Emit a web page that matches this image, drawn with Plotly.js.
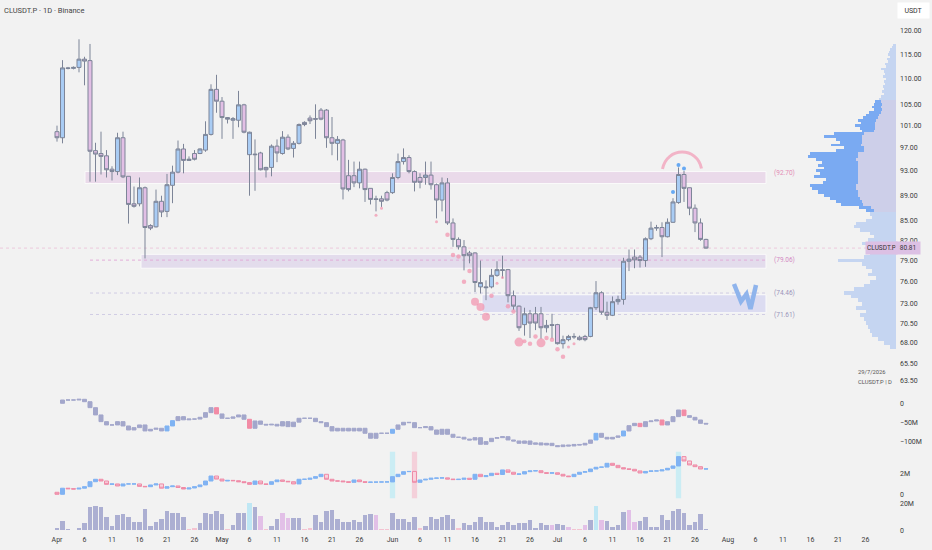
<!DOCTYPE html>
<html><head><meta charset="utf-8">
<script src="https://cdn.plot.ly/plotly-3.0.1.min.js"></script>
<style>html,body{margin:0;padding:0;background:#f2f2f2;}#chart{width:932px;height:550px;}</style>
</head><body><div id="chart"></div>
<script>
// ---------- DATA ----------
const startDay = Date.UTC(2026, 3, 1); // 2026-04-01, one candle per day

const openP = [99.9,98.8,112.2,112.1,112.3,114.0,113.7,96.5,96.0,95.6,93.3,92.9,98.8,92.1,87.6,87.6,90.2,84.2,84.0,88.0,
86.4,90.6,92.8,96.8,94.8,96.0,96.0,96.6,99.4,107.9,105.6,102.5,102.0,102.0,104.9,95.8,95.9,96.1,93.6,93.6,
97.3,96.0,98.9,96.9,97.8,101.6,102.4,102.3,103.9,103.9,98.8,97.8,98.4,92.2,92.2,91.0,93.3,90.1,88.4,88.4,
89.4,89.4,91.9,94.6,95.3,92.9,91.9,91.9,92.3,90.7,88.2,91.0,84.6,82.1,81.0,80.1,80.1,75.3,75.3,75.3,
76.9,77.7,77.7,74.1,72.7,70.3,71.7,71.7,71.7,69.9,70.3,70.3,67.9,68.4,68.8,68.7,68.8,68.8,72.5,74.5,
71.9,71.5,73.3,73.6,78.9,79.5,79.5,79.0,82.2,83.8,83.9,82.5,84.7,87.8,92.4,90.2,86.9,84.6,82.1];
const highP = [101.0,113.8,112.4,112.5,118.2,114.5,117.2,97.9,99.9,96.6,93.8,99.7,99.9,92.1,90.4,91.9,90.4,84.4,89.9,88.9,
92.5,93.9,98.3,97.7,95.5,96.6,96.9,101.8,108.9,110.8,106.4,102.6,102.6,107.6,105.1,99.9,98.5,96.3,93.7,97.6,
98.5,100.0,99.4,98.2,101.4,101.8,102.9,105.0,104.3,104.1,102.6,99.1,98.6,94.9,94.6,94.6,93.4,90.1,88.9,88.9,
89.7,92.6,96.0,96.9,95.7,93.1,92.6,94.6,94.6,90.9,91.9,91.8,85.3,82.4,82.0,80.4,80.2,79.0,76.2,77.8,
78.9,79.7,77.8,74.8,72.8,72.5,72.2,72.6,72.6,70.9,71.7,70.4,68.9,69.0,69.2,68.9,69.0,72.6,76.1,74.7,
73.3,74.0,74.1,79.4,80.6,80.6,79.8,82.4,84.8,84.3,84.7,85.3,88.5,93.6,93.0,90.2,87.5,85.3,82.2];
const lowP = [98.1,97.8,111.9,111.9,111.3,108.7,91.2,91.2,92.4,91.9,91.4,92.3,91.8,84.5,87.0,87.2,79.3,83.5,83.9,85.5,
85.5,87.7,92.6,92.6,94.7,94.8,95.9,96.3,99.2,103.4,98.6,101.4,98.6,100.7,99.6,88.9,89.7,93.1,91.9,92.1,
94.5,95.8,96.6,95.3,97.6,100.9,101.3,98.6,102.0,97.0,95.7,94.8,88.3,89.6,90.3,90.1,87.9,87.5,86.4,87.1,
88.0,89.2,91.6,94.1,92.6,89.6,90.1,90.7,89.9,85.3,86.4,84.3,81.0,80.6,77.6,78.6,74.6,74.4,73.5,75.1,
76.7,76.5,73.2,72.2,69.5,68.9,68.6,69.6,68.5,69.3,68.5,67.8,67.3,68.2,68.5,68.3,68.2,68.7,72.2,71.6,
70.9,71.4,72.9,72.9,77.5,77.9,78.0,78.1,82.0,83.4,79.5,82.4,84.6,87.6,87.9,85.8,83.2,81.9,80.7];
const closeP = [98.8,112.2,112.1,112.3,114.0,113.6,96.4,95.9,95.5,93.2,92.9,98.8,92.0,87.5,87.2,90.2,83.9,83.8,88.0,86.3,
90.7,92.8,96.8,94.8,95.0,95.0,96.8,99.4,107.9,105.6,102.5,102.2,102.3,104.9,99.8,99.8,95.8,93.2,93.2,97.3,
96.1,98.9,96.8,97.8,101.2,101.2,101.9,102.2,102.2,98.8,97.8,98.5,90.0,89.9,91.0,93.3,89.9,88.3,88.3,88.0,
88.2,91.9,94.6,95.3,92.9,91.1,91.1,92.3,90.7,88.2,91.0,84.6,82.1,81.0,79.7,79.7,75.9,75.9,75.2,76.9,
77.7,77.6,74.1,72.7,69.9,71.7,70.5,70.5,69.9,70.2,70.2,67.9,68.4,68.8,68.75,68.4,68.4,72.5,74.5,71.9,
71.5,73.3,73.6,78.9,79.2,79.1,79.0,82.2,83.8,83.9,82.5,84.7,87.9,92.4,90.1,86.9,84.6,82.1,80.81];

// cumulative delta pane (millions), close of each bar; first bar opens at 0
const cvdClose = [null,8.6,8.6,8.6,10.4,4.2,-11.3,-30.3,-47.7,-56.3,-56.3,-47.7,-59,-69.4,-63.3,-56.3,-71.9,-67.6,-65,-71.9,
-59,-45.1,-34.7,-43,-41,-41,-36.4,-24.3,-11.3,-27.7,-39,-39,-35.5,-30.3,-41.6,-65,-46,-54.6,-56.3,-54.6,
-59,-47.7,-60.7,-49,-39,-39,-39,-47.7,-50.3,-60.7,-71.9,-65,-71.9,-65,-71.9,-65,-78,-91,-78,-78,
-78,-67.6,-56.3,-49.4,-50.3,-63.3,-63.3,-60.7,-69.4,-80.6,-67.6,-80.6,-88.4,-88.4,-93,-95.4,-89.4,-106.7,-99.7,-91.1,
-89.4,-86.8,-95.4,-98,-104.1,-98,-106.7,-103,-108.4,-104.1,-110.1,-112.7,-108.4,-111,-107,-108.4,-104.1,-95.4,-78.1,-88.5,
-92.8,-88.5,-85,-72,-58.2,-52.1,-60.7,-47.8,-46,-43.4,-56.4,-47.8,-34.7,-17.4,-32.1,-36.5,-43.4,-52.1,-53.8];
const cvdBlueBars = [20,21,61,98,103];
const cvdPinkBars = [29,35,106,110,114];

// flow pane (millions), close of each bar; first bar opens at 0.2
const flowClose = [0.0,0.6,0.55,0.52,0.6,0.75,1.24,1.48,1.31,0.98,1.02,0.82,1.02,1.02,1.02,0.78,0.75,0.92,1.02,0.6,
0.75,0.82,0.67,0.52,0.62,0.75,0.92,1.31,1.8,1.5,1.31,1.37,1.34,1.24,1.15,0.98,1.31,1.02,0.98,1.24,
1.41,1.28,1.24,1.02,1.48,1.48,1.58,1.74,1.97,1.48,1.31,1.31,1.24,1.18,1.41,1.24,1.18,1.2,1.2,1.22,
1.22,1.74,1.97,2.23,2.25,1.18,1.41,1.48,1.58,1.6,1.62,1.5,1.45,1.48,1.58,1.48,1.97,1.74,1.84,2.07,
1.95,2.4,2.17,1.97,2.0,2.23,2.3,2.32,2.13,2.07,2.12,1.97,1.8,1.74,1.97,2.17,2.23,2.49,2.66,2.68,
3.05,2.85,2.62,2.5,2.46,2.3,2.1,2.25,2.3,2.3,2.4,2.56,2.79,3.71,3.28,2.89,2.72,2.49,2.5];
const flowBands = [61,65,113];
const flowBandKind = ['c','p','c'];

// volume pane (millions)
const volume = [2.0,7.0,1.0,0.3,2.0,5.2,17.1,18.1,17.6,9.6,3.0,11.5,12.2,9.8,6.0,6.5,15.8,3.5,6.0,8.3,
14.5,12.5,12.7,9.8,1.0,1.5,5.2,12.7,12.0,14.5,12.2,1.0,4.0,12.7,12.7,20.5,17.6,10.3,1.0,3.5,
8.3,12.7,9.1,8.8,8.8,1.0,1.5,11.5,6.0,14.5,14.8,8.3,6.5,5.8,7.3,6.5,11.5,12.2,11.0,1.0,
1.0,12.7,8.3,8.3,6.5,9.6,1.5,3.5,9.6,8.3,9.6,11.5,8.6,2.0,5.2,4.0,6.0,9.6,6.5,6.0,
2.7,4.0,6.5,4.0,5.2,5.2,7.7,2.0,5.2,4.0,4.0,4.5,4.0,2.7,1.0,1.0,4.0,7.7,18.3,7.7,
7.0,2.7,4.0,13.3,14.8,6.0,7.0,10.0,2.7,2.7,11.5,7.3,14.0,16.0,12.7,4.0,6.0,12.0,1.0];
const volOrchidBars = [37,41,42,58,90,93,96,99,104,105];
const volPinkBars = [24,25,31,38,45,46,59,60,66,73,94,95];
const volCyanBars = [35,98];

// sell-pressure bubbles and top dots (bar index, price, size)
const bubbleBar = [58,59,69,71,72,73,74,75,76,77,78,79,80,81,82,83,84,85,86,87,88,89,90,91,92,93,94];
const bubblePrice = [85.8,86.9,84.8,82.8,79.8,79.6,76.0,77.5,73.3,72.6,71.3,74.1,75.8,76.6,72.7,72.0,68.1,68.2,67.9,68.8,68.0,68.6,68.4,67.2,66.3,67.5,67.9];
const bubbleSize = [3,3,3,4.5,4.5,4.5,4.5,4.5,8,8,8,4.5,3,3,4.5,4.5,9,4,4.5,4.5,9,4.5,4.5,4.5,4.5,3,3];
const dotBar = [112,113,114];
const dotPrice = [89.5,94.0,93.4];

// visible-range volume profile: rows of 0.5 from 117.0 down to 67.5
const profileTop = 117.0, profileStep = 0.5;
const profileTotal = [3,4,6,7,8,6,9,8,11,10, 15,12,11,13,10,12,11,13,12,14,
12,15,17,21,22,24,22,27,30,33, 38,35,41,36,34,62,72,60,56,65,
52,60,86,88,80,74,78,72,80,76, 82,70,73,86,84,78,72,66,60,55,
37,30,26,24,30,40,42,36,26,22, 28,34,24,22,26,32,58,34,30,24,
28,20,26,32,42,52,45,38,34,40, 30,36,32,30,28,26,24,18,12,6];
const profileStrong = [0,0,0,0,0,0,0,0,0,0, 0,0,0,0,0,0,0,0,0,0,
0,0,0,6,8,9,8,12,13,15, 18,14,20,15,12,30,38,26,22,30,
20,28,48,50,40,36,40,34,42,38, 44,32,35,46,44,40,34,30,26,22,
12,8,0,0,0,0,0,0,0,0, 0,0,0,0,0,0,0,0,0,0,
0,0,0,0,0,0,0,0,0,0, 0,0,0,0,0,0,0,0,0,0];

// axis ticks
const priceTicks = [120,115,110,105,101,97,93,89,85,82,79,76,73,70.5,68,65.5,63.5];
const dateTicks = ['2026-04-01','2026-04-06','2026-04-11','2026-04-16','2026-04-21','2026-04-26','2026-05-01','2026-05-06','2026-05-11','2026-05-16','2026-05-21','2026-05-26','2026-06-01','2026-06-06','2026-06-11','2026-06-16','2026-06-21','2026-06-26','2026-07-01','2026-07-06','2026-07-11','2026-07-16','2026-07-21','2026-07-26','2026-08-01','2026-08-06','2026-08-11','2026-08-16','2026-08-21','2026-08-26'];
const dateTickText = ['Apr','6','11','16','21','26','May','6','11','16','21','26','Jun','6','11','16','21','26','Jul','6','11','16','21','26','Aug','6','11','16','21','26'];

// ---------- BUILD ----------
const DAY = 864e5;
const dayStr = f => new Date(startDay + f * DAY).toISOString().replace('T',' ').slice(0,19);
const N = closeP.length;
const dates = closeP.map((_, i) => dayStr(i).slice(0,10));
const PX = v => v / 932, PY = v => 1 - v / 550;
const FONT = 'Roboto, "Noto Sans", sans-serif';
const EDGE = 896 / 932;

const traces = [];

// volume profile
const levels = profileTotal.map((_, k) => profileTop - k * profileStep);
const profilePale = profileTotal.map((t, k) => t - profileStrong[k]);
const paleColors = levels.map(p => (p >= 86.5 && p <= 105.5) ? '#cdcfe9' : '#c5d5f1');
traces.push({type:'bar', orientation:'h', x:profilePale, y:levels, width:profileStep, xaxis:'x2', yaxis:'y',
  marker:{color:paleColors, line:{width:0}}, hoverinfo:'skip', showlegend:false});
traces.push({type:'bar', orientation:'h', x:profileStrong, y:levels, width:profileStep, xaxis:'x2', yaxis:'y',
  marker:{color:'#7aaaf2', line:{width:0}}, hoverinfo:'skip', showlegend:false});

// price candles
traces.push({type:'candlestick', x:dates, open:openP, high:highP, low:lowP, close:closeP, xaxis:'x', yaxis:'y',
  increasing:{line:{color:'#7d8598', width:1}, fillcolor:'#a9ccf4'},
  decreasing:{line:{color:'#7d8598', width:1}, fillcolor:'#e2bfe5'},
  whiskerwidth:0, hoverinfo:'skip', showlegend:false});

// bubbles & dots
traces.push({type:'scatter', mode:'markers', x:bubbleBar.map(i => dates[i]), y:bubblePrice, xaxis:'x', yaxis:'y',
  marker:{size:bubbleSize, color:'#f291ac', line:{width:0}}, hoverinfo:'skip', showlegend:false});
traces.push({type:'scatter', mode:'markers', x:dotBar.map(i => dates[i]), y:dotPrice, xaxis:'x', yaxis:'y',
  marker:{size:4, color:'#67a9f3', line:{width:0}}, hoverinfo:'skip', showlegend:false});

// cumulative delta candles
function cvdKind(i){ return cvdBlueBars.includes(i) ? 'b' : (cvdPinkBars.includes(i) ? 'p' : 'g'); }
function cvdTrace(kind, color){
  const xs=[], o=[], h=[], l=[], c=[];
  for (let i = 1; i < N; i++) {
    if (cvdKind(i) !== kind) continue;
    const op = (i === 1 || cvdClose[i-1] === null) ? 0 : cvdClose[i-1];
    const cl = cvdClose[i];
    xs.push(dates[i]); o.push(op); c.push(cl); h.push(Math.max(op, cl)); l.push(Math.min(op, cl));
  }
  return {type:'candlestick', x:xs, open:o, high:h, low:l, close:c, xaxis:'x', yaxis:'y2',
    increasing:{line:{color:color, width:1}, fillcolor:color},
    decreasing:{line:{color:color, width:1}, fillcolor:color},
    whiskerwidth:0, hoverinfo:'skip', showlegend:false};
}
traces.push(cvdTrace('g', '#a3a7cb'));
traces.push(cvdTrace('b', '#7fb3f3'));
traces.push(cvdTrace('p', '#f28ca6'));

// flow candles
const fo = flowClose.map((c, i) => i === 0 ? 0.2 : flowClose[i-1]);
traces.push({type:'candlestick', x:dates, open:fo, close:flowClose,
  high:fo.map((o, i) => Math.max(o, flowClose[i])), low:fo.map((o, i) => Math.min(o, flowClose[i])),
  xaxis:'x', yaxis:'y3',
  increasing:{line:{color:'#80b3f3', width:1}, fillcolor:'#80b3f3'},
  decreasing:{line:{color:'#ef8ba7', width:1}, fillcolor:'#f8d3de'},
  whiskerwidth:0, hoverinfo:'skip', showlegend:false});

// volume bars
const volColors = volume.map((v, i) => volCyanBars.includes(i) ? '#bfe7f4' :
  volOrchidBars.includes(i) ? '#e2c0e7' : volPinkBars.includes(i) ? '#f4c3d1' : '#acafd2');
traces.push({type:'bar', x:dates, y:volume, width:0.82 * DAY, xaxis:'x', yaxis:'y4',
  marker:{color:volColors, line:{width:0}}, hoverinfo:'skip', showlegend:false});

// ---------- SHAPES ----------
const shapes = [
  {type:'rect', xref:'paper', yref:'y', x0:PX(85), x1:PX(766), y0:90.9, y1:92.9, fillcolor:'#eadaea', line:{color:'#fafafa', width:1}, layer:'below'},
  {type:'rect', xref:'paper', yref:'y', x0:PX(141), x1:PX(766), y0:77.9, y1:79.9, fillcolor:'#e3dcec', line:{color:'#fafafa', width:1}, layer:'below'},
  {type:'rect', xref:'paper', yref:'y', x0:PX(482), x1:PX(766), y0:71.84, y1:74.23, fillcolor:'#dcdcf1', line:{color:'#fafafa', width:1}, layer:'below'},
  {type:'line', xref:'paper', yref:'y', x0:PX(90), x1:PX(766), y0:79.06, y1:79.06, line:{color:'#e2aed8', width:1, dash:'dot'}, layer:'below'},
  {type:'line', xref:'paper', yref:'y', x0:PX(90), x1:PX(766), y0:74.46, y1:74.46, line:{color:'#d0cce4', width:1, dash:'dot'}, layer:'below'},
  {type:'line', xref:'paper', yref:'y', x0:PX(90), x1:PX(766), y0:71.61, y1:71.61, line:{color:'#d0cce4', width:1, dash:'dot'}, layer:'below'},
  {type:'line', xref:'paper', yref:'y', x0:0, x1:EDGE, y0:80.81, y1:80.81, line:{color:'#ecc9dc', width:1, dash:'dot'}, layer:'below'}
];
flowBands.forEach((b, k) => {
  shapes.push({type:'rect', xref:'x', yref:'paper', x0:dayStr(b - 0.48), x1:dayStr(b + 0.48), y0:PY(498.3), y1:PY(451.7),
    fillcolor: flowBandKind[k] === 'c' ? '#cbedf4' : '#f4d0da', line:{width:0}, layer:'below'});
});
// hand-drawn arc over the top and "W" sketch
shapes.push({type:'path', xref:'paper', yref:'paper',
  path:`M ${PX(662.5)},${PY(169)} C ${PX(667)},${PY(146.5)} ${PX(697)},${PY(146.5)} ${PX(701.5)},${PY(168.5)}`,
  line:{color:'#f2b4c7', width:3}, layer:'above'});
shapes.push({type:'path', xref:'paper', yref:'paper',
  path:`M ${PX(734)},${PY(284)} L ${PX(741)},${PY(301.5)} L ${PX(746.5)},${PY(294)} L ${PX(750.5)},${PY(309)} L ${PX(756)},${PY(285)}`,
  line:{color:'#8fb4ec', width:4.5}, layer:'above'});

// ---------- ANNOTATIONS ----------
const small = (t, x, y, color, size, anchor) => ({text:t, xref:'paper', yref:'paper', x:PX(x), y:PY(y),
  xanchor:anchor || 'left', yanchor:'middle', showarrow:false, font:{family:FONT, size:size, color:color}});
const annotations = [
  small('(92.70)', 772, 172.7, '#e38cb6', 6.5),
  small('(79.06)', 772, 260.3, '#d38ac4', 6.5),
  small('(74.46)', 772, 293.3, '#9a94ba', 6.5),
  small('(71.61)', 772, 315, '#9a94ba', 6.5),
  small('29/7/2026', 856, 371.7, '#555555', 5.8),
  small('CLUSDT.P | D', 856, 381.7, '#555555', 5.8),
  Object.assign(small('USDT', 913.5, 10, '#333333', 7, 'center'), {bgcolor:'#ffffff', width:29, height:13}),
  Object.assign(small('CLUSDT.P', 881.5, 248.3, '#333333', 6.5, 'center'), {bgcolor:'#dcc0e4', width:29, height:10}),
  Object.assign(small('80.81', 907.5, 248.3, '#333333', 6.5, 'center'), {bgcolor:'#dcc0e4', width:22, height:10})
];

const tickFont = {family:FONT, size:7, color:'#3a3a3a'};
const yBase = {side:'right', anchor:'x', showgrid:false, zeroline:false, showline:false, ticks:'', ticklabelstandoff:3,
  tickfont:tickFont, fixedrange:true};

const layout = {
  width:932, height:550,
  margin:{l:0, r:0, t:0, b:0, pad:0},
  paper_bgcolor:'#f2f2f2', plot_bgcolor:'#f2f2f2',
  showlegend:false, hovermode:false, dragmode:false,
  barmode:'stack', boxgap:0.15, boxgroupgap:0.15,
  title:{text:'CLUSDT.P · 1D · Binance', x:PX(4), xanchor:'left', y:PY(10), yanchor:'middle',
    font:{family:FONT, size:7.5, color:'#454545'}},
  xaxis:{type:'date', domain:[0, EDGE], range:['2026-03-21 15:16', '2026-08-31 13:05'], anchor:'y4',
    tickvals:dateTicks, ticktext:dateTickText, showgrid:false, zeroline:false, showline:false, ticks:'',
    ticklabelstandoff:4, tickfont:tickFont, rangeslider:{visible:false}, fixedrange:true},
  xaxis2:{domain:[0, EDGE], range:[896, 0], overlaying:'x', anchor:'y', visible:false, fixedrange:true},
  yaxis:Object.assign({}, yBase, {type:'log', domain:[1 - 392/550, 1], range:[Math.log10(62.18), Math.log10(126.97)],
    tickvals:priceTicks, ticktext:priceTicks.map(v => v.toFixed(2))}),
  yaxis2:Object.assign({}, yBase, {domain:[1 - 450/550, 1 - 395/550], range:[-121.5, 21.6],
    tickvals:[0, -50, -100], ticktext:['0', '\u221250M', '\u2212100M']}),
  yaxis3:Object.assign({}, yBase, {domain:[1 - 500/550, 1 - 450/550], range:[-0.56, 4.36],
    tickvals:[0, 2], ticktext:['0', '2M']}),
  yaxis4:Object.assign({}, yBase, {domain:[1 - 530.3/550, 1 - 500.5/550], range:[0, 22.07],
    tickvals:[0, 20], ticktext:['0', '20M']}),
  shapes:shapes, annotations:annotations
};

Plotly.newPlot('chart', traces, layout, {staticPlot:true, displayModeBar:false});
</script>
</body></html>
